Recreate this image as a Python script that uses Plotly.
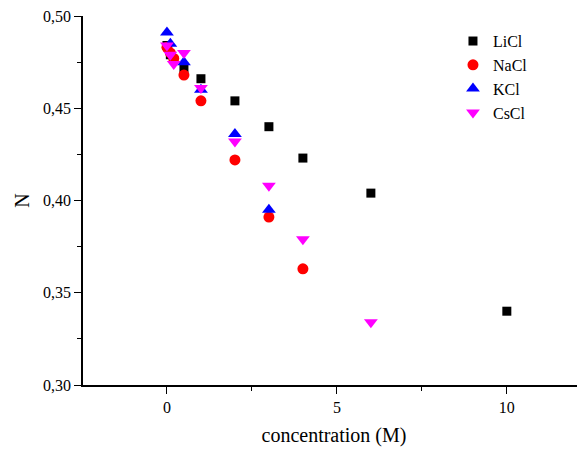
import plotly.graph_objects as go

# concentration (M) and N values per salt
licl_x = [0, 0.1, 0.5, 1, 2, 3, 4, 6, 10]
licl_y = [0.484, 0.479, 0.471, 0.466, 0.454, 0.440, 0.423, 0.404, 0.340]

nacl_x = [0, 0.1, 0.2, 0.5, 1, 2, 3, 4]
nacl_y = [0.483, 0.480, 0.477, 0.468, 0.454, 0.422, 0.391, 0.363]

kcl_x = [0, 0.1, 0.5, 1, 2, 3]
kcl_y = [0.491, 0.485, 0.475, 0.460, 0.436, 0.395]

cscl_x = [0, 0.1, 0.2, 0.5, 1, 2, 3, 4, 6]
cscl_y = [0.484, 0.479, 0.474, 0.480, 0.461, 0.432, 0.408, 0.379, 0.334]

series = [
    ("LiCl", licl_x, licl_y, "black", "square", 9),
    ("NaCl", nacl_x, nacl_y, "red", "circle", 11),
    ("KCl", kcl_x, kcl_y, "blue", "triangle-up", 12),
    ("CsCl", cscl_x, cscl_y, "magenta", "triangle-down", 12),
]

fig = go.Figure()
for name, xs, ys, color, symbol, size in series:
    fig.add_trace(
        go.Scatter(
            x=xs,
            y=ys,
            mode="markers",
            name=name,
            marker={"color": color, "symbol": symbol, "size": size, "line": {"width": 0}},
        )
    )

serif = "Liberation Serif"
axis_font = {"family": serif, "size": 16, "color": "black"}
title_font = {"family": serif, "size": 20, "color": "black"}
fig.update_xaxes(
    range=[-2.47, 12.3],
    tickvals=[0, 5, 10],
    ticks="outside",
    ticklen=7,
    tickcolor="black",
    showline=True,
    linecolor="black",
    linewidth=1.5,
    showgrid=False,
    zeroline=False,
    minor={"tickvals": [2.5, 7.5], "ticks": "outside", "ticklen": 4, "tickcolor": "black"},
    tickfont=axis_font,
    title={"text": "concentration (M)", "font": title_font, "standoff": 13},
)
fig.update_yaxes(
    range=[0.30, 0.50],
    tickvals=[0.30, 0.35, 0.40, 0.45, 0.50],
    tickformat=".2f",
    ticklabeloverflow="allow",
    ticks="outside",
    ticklen=7,
    tickcolor="black",
    showline=True,
    linecolor="black",
    linewidth=1.5,
    showgrid=False,
    zeroline=False,
    minor={"tickvals": [0.325, 0.375, 0.425, 0.475], "ticks": "outside", "ticklen": 4, "tickcolor": "black"},
    tickfont=axis_font,
    title={"text": "N", "font": title_font, "standoff": 8},
)

# the page body adds an 8px offset, so the figure is drawn 8px smaller
fig.update_layout(
    width=577,
    height=443,
    separators=",.",
    plot_bgcolor="white",
    paper_bgcolor="white",
    margin={"l": 75, "r": 0, "t": 8, "b": 66},
    font={"family": serif, "color": "black"},
    legend={
        "x": 0.737,
        "y": 0.978,
        "xanchor": "left",
        "yanchor": "top",
        "font": {"family": serif, "size": 16},
        "bgcolor": "rgba(0,0,0,0)",
        "itemwidth": 30,
        "tracegroupgap": 0,
    },
)

fig.write_html("out.html")
